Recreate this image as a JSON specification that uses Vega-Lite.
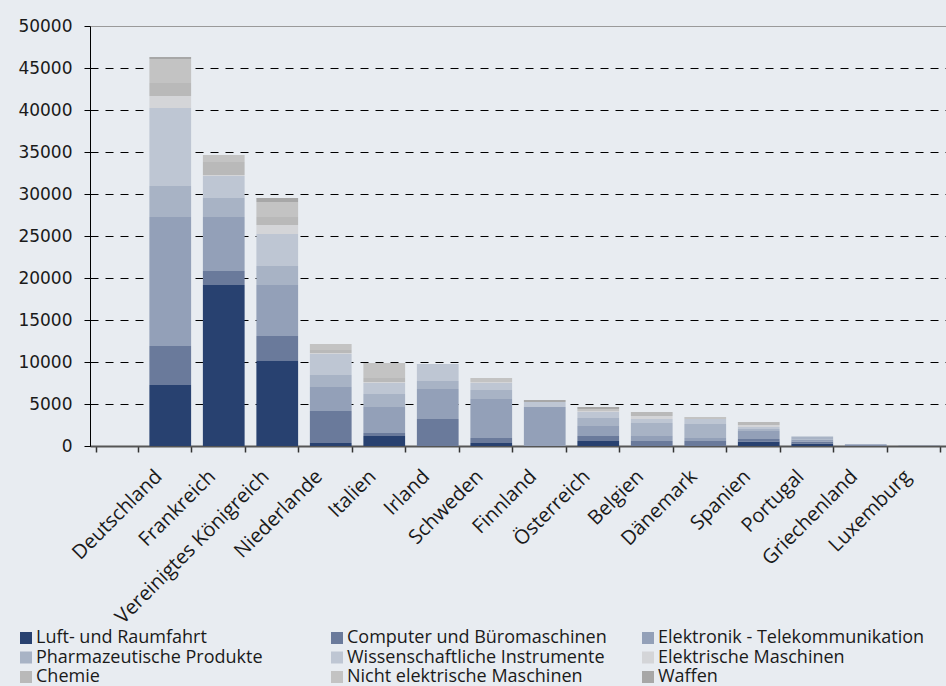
{
  "$schema": "https://vega.github.io/schema/vega-lite/v6.json",
  "width": 856,
  "height": 420,
  "autosize": {"type": "none"},
  "padding": {"left": 90, "top": 26, "right": 0, "bottom": 240},
  "background": "#e8ecf1",
  "config": {"view": {"stroke": null}},
  "datasets": {
    "export": [
      {"Land": "Deutschland", "Luft- und Raumfahrt": 7260, "Computer und Büromaschinen": 4645, "Elektronik - Telekommunikation": 15355, "Pharmazeutische Produkte": 3690, "Wissenschaftliche Instrumente": 9290, "Elektrische Maschinen": 1430, "Chemie": 1540, "Nicht elektrische Maschinen": 2860, "Waffen": 240},
      {"Land": "Frankreich", "Luft- und Raumfahrt": 19170, "Computer und Büromaschinen": 1660, "Elektronik - Telekommunikation": 6430, "Pharmazeutische Produkte": 2260, "Wissenschaftliche Instrumente": 2620, "Elektrische Maschinen": 120, "Chemie": 1550, "Nicht elektrische Maschinen": 830, "Waffen": 0},
      {"Land": "Vereinigtes Königreich", "Luft- und Raumfahrt": 10120, "Computer und Büromaschinen": 2980, "Elektronik - Telekommunikation": 6070, "Pharmazeutische Produkte": 2260, "Wissenschaftliche Instrumente": 3810, "Elektrische Maschinen": 1070, "Chemie": 950, "Nicht elektrische Maschinen": 1790, "Waffen": 470},
      {"Land": "Niederlande", "Luft- und Raumfahrt": 360, "Computer und Büromaschinen": 3810, "Elektronik - Telekommunikation": 2850, "Pharmazeutische Produkte": 1430, "Wissenschaftliche Instrumente": 2500, "Elektrische Maschinen": 120, "Chemie": 360, "Nicht elektrische Maschinen": 710, "Waffen": 0},
      {"Land": "Italien", "Luft- und Raumfahrt": 1190, "Computer und Büromaschinen": 360, "Elektronik - Telekommunikation": 3090, "Pharmazeutische Produkte": 1550, "Wissenschaftliche Instrumente": 1310, "Elektrische Maschinen": 120, "Chemie": 480, "Nicht elektrische Maschinen": 1780, "Waffen": 0},
      {"Land": "Irland", "Luft- und Raumfahrt": 0, "Computer und Büromaschinen": 3210, "Elektronik - Telekommunikation": 3580, "Pharmazeutische Produkte": 950, "Wissenschaftliche Instrumente": 2020, "Elektrische Maschinen": 0, "Chemie": 0, "Nicht elektrische Maschinen": 0, "Waffen": 0},
      {"Land": "Schweden", "Luft- und Raumfahrt": 360, "Computer und Büromaschinen": 590, "Elektronik - Telekommunikation": 4650, "Pharmazeutische Produkte": 1070, "Wissenschaftliche Instrumente": 830, "Elektrische Maschinen": 120, "Chemie": 0, "Nicht elektrische Maschinen": 480, "Waffen": 0},
      {"Land": "Finnland", "Luft- und Raumfahrt": 0, "Computer und Büromaschinen": 0, "Elektronik - Telekommunikation": 4640, "Pharmazeutische Produkte": 0, "Wissenschaftliche Instrumente": 600, "Elektrische Maschinen": 0, "Chemie": 0, "Nicht elektrische Maschinen": 0, "Waffen": 240},
      {"Land": "Österreich", "Luft- und Raumfahrt": 600, "Computer und Büromaschinen": 590, "Elektronik - Telekommunikation": 1190, "Pharmazeutische Produkte": 950, "Wissenschaftliche Instrumente": 720, "Elektrische Maschinen": 120, "Chemie": 0, "Nicht elektrische Maschinen": 230, "Waffen": 240},
      {"Land": "Belgien", "Luft- und Raumfahrt": 0, "Computer und Büromaschinen": 600, "Elektronik - Telekommunikation": 590, "Pharmazeutische Produkte": 1550, "Wissenschaftliche Instrumente": 470, "Elektrische Maschinen": 360, "Chemie": 480, "Nicht elektrische Maschinen": 0, "Waffen": 0},
      {"Land": "Dänemark", "Luft- und Raumfahrt": 0, "Computer und Büromaschinen": 595, "Elektronik - Telekommunikation": 357, "Pharmazeutische Produkte": 1667, "Wissenschaftliche Instrumente": 595, "Elektrische Maschinen": 0, "Chemie": 0, "Nicht elektrische Maschinen": 238, "Waffen": 0},
      {"Land": "Spanien", "Luft- und Raumfahrt": 540, "Computer und Büromaschinen": 290, "Elektronik - Telekommunikation": 960, "Pharmazeutische Produkte": 230, "Wissenschaftliche Instrumente": 240, "Elektrische Maschinen": 240, "Chemie": 360, "Nicht elektrische Maschinen": 0, "Waffen": 0},
      {"Land": "Portugal", "Luft- und Raumfahrt": 300, "Computer und Büromaschinen": 240, "Elektronik - Telekommunikation": 240, "Pharmazeutische Produkte": 360, "Wissenschaftliche Instrumente": 0, "Elektrische Maschinen": 0, "Chemie": 0, "Nicht elektrische Maschinen": 0, "Waffen": 0},
      {"Land": "Griechenland", "Luft- und Raumfahrt": 0, "Computer und Büromaschinen": 100, "Elektronik - Telekommunikation": 100, "Pharmazeutische Produkte": 0, "Wissenschaftliche Instrumente": 0, "Elektrische Maschinen": 0, "Chemie": 0, "Nicht elektrische Maschinen": 0, "Waffen": 0},
      {"Land": "Luxemburg", "Luft- und Raumfahrt": 0, "Computer und Büromaschinen": 20, "Elektronik - Telekommunikation": 0, "Pharmazeutische Produkte": 0, "Wissenschaftliche Instrumente": 0, "Elektrische Maschinen": 0, "Chemie": 0, "Nicht elektrische Maschinen": 0, "Waffen": 0}
    ],
    "kat": [
      {"Kategorie": "Luft- und Raumfahrt", "Nr": 1},
      {"Kategorie": "Computer und Büromaschinen", "Nr": 2},
      {"Kategorie": "Elektronik - Telekommunikation", "Nr": 3},
      {"Kategorie": "Pharmazeutische Produkte", "Nr": 4},
      {"Kategorie": "Wissenschaftliche Instrumente", "Nr": 5},
      {"Kategorie": "Elektrische Maschinen", "Nr": 6},
      {"Kategorie": "Chemie", "Nr": 7},
      {"Kategorie": "Nicht elektrische Maschinen", "Nr": 8},
      {"Kategorie": "Waffen", "Nr": 9}
    ]
  },
  "data": {"name": "export"},
  "transform": [
    {"fold": ["Luft- und Raumfahrt", "Computer und Büromaschinen", "Elektronik - Telekommunikation", "Pharmazeutische Produkte", "Wissenschaftliche Instrumente", "Elektrische Maschinen", "Chemie", "Nicht elektrische Maschinen", "Waffen"], "as": ["Kategorie", "Wert"]},
    {"lookup": "Kategorie", "from": {"data": {"name": "kat"}, "key": "Kategorie", "fields": ["Nr"]}}
  ],
  "mark": {"type": "bar"},
  "encoding": {
    "x": {
      "field": "Land",
      "type": "nominal",
      "sort": null,
      "scale": {
        "domain": ["", "Deutschland", "Frankreich", "Vereinigtes Königreich", "Niederlande", "Italien", "Irland", "Schweden", "Finnland", "Österreich", "Belgien", "Dänemark", "Spanien", "Portugal", "Griechenland", "Luxemburg"],
        "paddingInner": 0.22,
        "paddingOuter": 0.11
      },
      "axis": {
        "title": null,
        "tickBand": "extent",
        "domainColor": "#555555",
        "domainWidth": 2,
        "tickColor": "#333333",
        "tickWidth": 1.5,
        "tickSize": 6,
        "labelAngle": -45,
        "labelAlign": "right",
        "labelBaseline": "top",
        "labelOffset": -19,
        "labelPadding": 14,
        "labelFont": "Open Sans",
        "labelFontSize": 20,
        "labelColor": "#1a1a1a",
        "labelLimit": 400
      }
    },
    "y": {
      "field": "Wert",
      "type": "quantitative",
      "stack": "zero",
      "scale": {"domain": [0, 50000]},
      "axis": {
        "title": null,
        "format": "d",
        "values": [0, 5000, 10000, 15000, 20000, 25000, 30000, 35000, 40000, 45000, 50000],
        "domainColor": "#000000",
        "domainWidth": 1,
        "tickColor": "#000000",
        "tickSize": 6,
        "labelFont": "DejaVu Sans",
        "labelFontSize": 17,
        "labelColor": "#1a1a1a",
        "labelPadding": 12,
        "grid": true,
        "gridColor": {"condition": {"test": "datum.value === 50000", "value": "#9a9a9a"}, "value": "#000000"},
        "gridDash": {"condition": {"test": "datum.value === 50000", "value": []}, "value": [8, 7]},
        "gridWidth": 1
      }
    },
    "color": {
      "field": "Kategorie",
      "type": "nominal",
      "scale": {
        "domain": ["Luft- und Raumfahrt", "Computer und Büromaschinen", "Elektronik - Telekommunikation", "Pharmazeutische Produkte", "Wissenschaftliche Instrumente", "Elektrische Maschinen", "Chemie", "Nicht elektrische Maschinen", "Waffen"],
        "range": ["#284170", "#6a7a9b", "#93a0b8", "#a8b3c5", "#bec6d3", "#d4d5d8", "#b9b9b9", "#c3c3c3", "#a7a7a7"]
      },
      "legend": {
        "title": null,
        "orient": "none",
        "direction": "horizontal",
        "legendX": -73,
        "legendY": 603,
        "columns": 3,
        "gridAlign": "all",
        "columnPadding": 25,
        "rowPadding": 1.5,
        "symbolType": "square",
        "symbolSize": 144,
        "symbolStrokeWidth": 0,
        "labelOffset": 1,
        "labelFont": "Open Sans",
        "labelFontSize": 18,
        "labelColor": "#1a1a1a",
        "labelLimit": 400
      }
    },
    "order": {"field": "Nr", "type": "quantitative", "sort": "ascending"}
  }
}
